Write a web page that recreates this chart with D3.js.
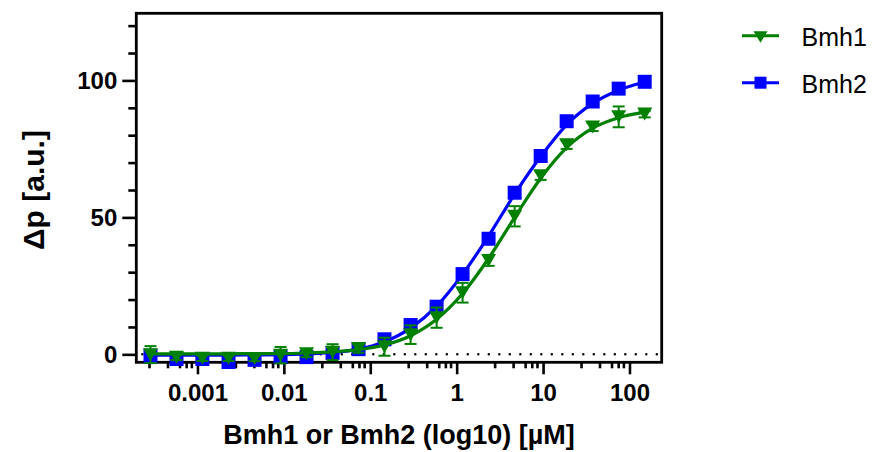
<!DOCTYPE html>
<html>
<head>
<meta charset="utf-8">
<script src="https://cdn.jsdelivr.net/npm/d3@7"></script>
<style>
  body { margin: 0; background: #fff; }
  svg { display: block; }
  text { font-family: "Liberation Sans", Arial, sans-serif; }
</style>
</head>
<body>
<svg id="chart" width="882" height="452"></svg>
<script>
// concentrations in µM (2-fold dilutions from 150 µM)
const concentrations = [0.000286, 0.000572, 0.00114, 0.00229, 0.00458, 0.00916, 0.0183, 0.0366,
  0.0732, 0.146, 0.293, 0.586, 1.17, 2.34, 4.69, 9.38, 18.75, 37.5, 75, 150]

const bmh1Mean = [-0.1, -1.1, -1.4, -1.4, -1.5, -0.3, 0.2, 0.8, 2.1, 2.8, 7.2, 13.4, 22.5, 34.3, 50.4, 65.2, 76.5, 83.0, 86.7, 87.7]
const bmh1Sd = [3.1, 1.0, 1.0, 1.0, 1.0, 3.0, 1.2, 2.9, 1.5, 3.3, 3.4, 3.7, 3.6, 2.0, 3.7, 1.5, 1.5, 1.5, 3.8, 1.2]
const bmh2Mean = [-0.5, -1.7, -1.7, -2.8, -2.0, -1.0, -1.0, 0.5, 1.9, 5.5, 10.7, 17.4, 29.3, 42.2, 59.0, 72.4, 85.1, 92.3, 97.0, 99.5]
const bmh2Sd = [0.8, 0.8, 0.8, 0.8, 0.8, 0.8, 0.8, 0.8, 0.8, 0.8, 0.8, 0.8, 0.8, 0.8, 0.8, 0.8, 0.8, 0.8, 0.8, 0.8]

// fitted curves at the same concentrations
const bmh1Fit = [0.2, 0.2, 0.2, 0.2, 0.3, 0.3, 0.5, 0.9, 1.7, 3.4, 6.8, 12.8, 22.2, 35.0, 50.0, 64.3, 75.5, 82.6, 86.4, 88.4]
const bmh2Fit = [-0.3, -0.3, -0.3, -0.3, -0.2, -0.1, 0.2, 0.7, 1.9, 4.6, 9.6, 17.6, 29.2, 43.2, 58.5, 72.2, 83.8, 91.6, 96.4, 99.4]

const xTickValues = [0.001, 0.01, 0.1, 1, 10, 100]
const xTickLabels = ['0.001', '0.01', '0.1', '1', '10', '100']
const xMinorFactors = [2.75, 4.5, 6.2, 7.4, 8.5]
const yTickValues = [0, 50, 100]
const yMinorValues = [10, 20, 30, 40, 60, 70, 80, 90, 110, 120]
const xDomain = [0.000196, 236]
const yDomain = [-2.9, 124.5]

const GREEN = '#008000', BLUE = '#0000ff'

const svg = d3.select('#chart')
const plot = { left: 136.3, right: 661.7, top: 13.3, bottom: 362.3 }

const x = d3.scaleLog().domain(xDomain).range([plot.left, plot.right])
const y = d3.scaleLinear().domain(yDomain).range([plot.bottom, plot.top])

// frame
svg.append('rect')
  .attr('x', plot.left).attr('y', plot.top)
  .attr('width', plot.right - plot.left).attr('height', plot.bottom - plot.top)
  .attr('fill', 'none').attr('stroke', '#000').attr('stroke-width', 2.8)

// dotted zero line
svg.append('line')
  .attr('x1', plot.left + 6).attr('x2', plot.right)
  .attr('y1', y(0)).attr('y2', y(0))
  .attr('stroke', '#000').attr('stroke-width', 2.5)
  .attr('stroke-dasharray', '0,10.5').attr('stroke-linecap', 'round')

// minor ticks
const xMinor = []
for (let d = -4; d <= 2; d++) {
  xMinorFactors.forEach(f => {
    const v = f * Math.pow(10, d)
    if (v > xDomain[0] && v < xDomain[1]) xMinor.push(v)
  })
}

function styleAxis(g) {
  g.select('.domain').remove()
  g.selectAll('line').attr('stroke', '#000').attr('stroke-width', 2.6)
  g.selectAll('text')
    .attr('fill', '#000')
    .style('font-size', '24px')
    .style('font-weight', 'bold')
}

svg.append('g')
  .attr('transform', `translate(0,${plot.bottom})`)
  .call(d3.axisBottom(x).tickValues(xMinor).tickFormat('').tickSize(6))
  .call(styleAxis)

svg.append('g')
  .attr('transform', `translate(0,${plot.bottom})`)
  .call(d3.axisBottom(x).tickValues(xTickValues)
    .tickFormat((d, i) => xTickLabels[i]).tickSize(12).tickPadding(10))
  .call(styleAxis)

svg.append('g')
  .attr('transform', `translate(${plot.left},0)`)
  .call(d3.axisLeft(y).tickValues(yMinorValues).tickFormat('').tickSize(8))
  .call(styleAxis)

svg.append('g')
  .attr('transform', `translate(${plot.left},0)`)
  .call(d3.axisLeft(y).tickValues(yTickValues).tickSize(14).tickPadding(5))
  .call(styleAxis)

// axis titles
svg.append('text')
  .attr('x', (plot.left + plot.right) / 2).attr('y', 444)
  .attr('text-anchor', 'middle')
  .style('font-size', '27px').style('font-weight', 'bold')
  .text('Bmh1 or Bmh2 (log10) [µM]')

svg.append('text')
  .attr('transform', 'translate(44,190) rotate(-90)')
  .attr('text-anchor', 'middle')
  .style('font-size', '30px').style('font-weight', 'bold')
  .text('Δp [a.u.]')

// series
const trianglePath = 'M-7.5,-6.5L7.5,-6.5L0,6.5Z'
const squarePath = 'M-7,-7H7V7H-7Z'

const series = [
  { name: 'Bmh2', color: BLUE, mean: bmh2Mean, sd: bmh2Sd, fit: bmh2Fit, symbol: squarePath },
  { name: 'Bmh1', color: GREEN, mean: bmh1Mean, sd: bmh1Sd, fit: bmh1Fit, symbol: trianglePath }
]

const line = d3.line()
  .x(d => x(d.c))
  .y(d => y(d.v))
  .curve(d3.curveMonotoneX)

series.forEach(s => {
  const g = svg.append('g')
  const pts = concentrations.map((c, i) => ({ c, v: s.mean[i], sd: s.sd[i], fit: s.fit[i] }))

  g.append('path')
    .datum(pts.map(p => ({ c: p.c, v: p.fit })))
    .attr('d', line)
    .attr('fill', 'none').attr('stroke', s.color).attr('stroke-width', 3.2)

  const eb = g.selectAll('.err').data(pts).join('g').attr('class', 'err')
  eb.append('line')
    .attr('x1', d => x(d.c)).attr('x2', d => x(d.c))
    .attr('y1', d => y(d.v - d.sd)).attr('y2', d => y(d.v + d.sd))
    .attr('stroke', s.color).attr('stroke-width', 2)
  eb.selectAll('.cap').data(d => [d.v - d.sd, d.v + d.sd].map(v => ({ c: d.c, v })))
    .join('line').attr('class', 'cap')
    .attr('x1', d => x(d.c) - 6).attr('x2', d => x(d.c) + 6)
    .attr('y1', d => y(d.v)).attr('y2', d => y(d.v))
    .attr('stroke', s.color).attr('stroke-width', 2)

  g.selectAll('.pt').data(pts).join('path').attr('class', 'pt')
    .attr('d', s.symbol)
    .attr('transform', d => `translate(${x(d.c)},${y(d.v)})`)
    .attr('fill', s.color)
})

// legend
const legend = [
  { name: 'Bmh1', color: GREEN, symbol: 'M-7,-4.5L7,-4.5L0,7Z', y: 35.7 },
  { name: 'Bmh2', color: BLUE, symbol: 'M-6,-6H6V6H-6Z', y: 82.7 }
]
const lg = svg.append('g').selectAll('g').data(legend).join('g')
  .attr('transform', d => `translate(0,${d.y})`)
lg.append('line')
  .attr('x1', 742).attr('x2', 779)
  .attr('stroke', d => d.color).attr('stroke-width', 3)
lg.append('path')
  .attr('d', d => d.symbol)
  .attr('transform', 'translate(760.5,0)')
  .attr('fill', d => d.color)
lg.append('text')
  .attr('x', 801.5).attr('y', 10.5)
  .style('font-size', '25px')
  .attr('fill', '#000')
  .text(d => d.name)
</script>
</body>
</html>
